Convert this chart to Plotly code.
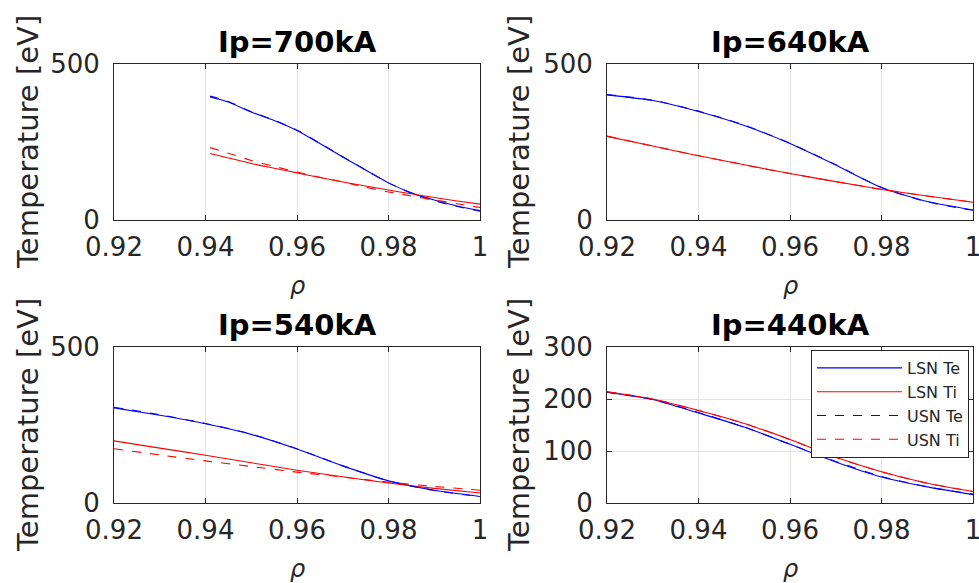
import plotly.graph_objects as go

# ---------------- data ----------------
titles = ["Ip=700kA", "Ip=640kA", "Ip=540kA", "Ip=440kA"]
series_names = ["LSN Te", "LSN Ti", "USN Te", "USN Ti"]

rho_700 = [0.941, 0.945, 0.95, 0.955, 0.96, 0.965, 0.97, 0.975, 0.98, 0.985, 0.99, 0.995, 1.0]
te_lsn_700 = [394, 378, 346, 319, 287, 245, 202, 160, 119, 87, 64, 45, 30]
ti_lsn_700 = [213, 199, 181, 166, 151, 136, 122, 109, 96, 84, 72, 61, 51]
te_usn_700 = [397, 380, 347, 320, 288, 246, 203, 160, 119, 86, 62, 43, 28]
ti_usn_700 = [232, 214, 191, 172, 154, 137, 122, 105, 90, 77, 64, 52, 40]

rho = [0.92, 0.93, 0.94, 0.95, 0.96, 0.97, 0.98, 0.99, 1.0]

te_lsn_640 = [401, 383, 348, 303, 245, 176, 104, 59, 32]
ti_lsn_640 = [268, 237, 206, 177, 149, 123, 98, 77, 57]
te_usn_640 = [402, 384, 349, 304, 246, 177, 104, 58, 31]
ti_usn_640 = [269, 237, 206, 177, 149, 123, 98, 77, 57]

te_lsn_540 = [305, 281, 254, 220, 173, 119, 71, 41, 21]
ti_lsn_540 = [199, 176, 153, 129, 105, 84, 64, 47, 32]
te_usn_540 = [307, 283, 255, 221, 174, 119, 71, 40, 20]
ti_usn_540 = [174, 154, 135, 117, 99, 83, 67, 53, 41]

te_lsn_440 = [213, 199, 173, 146, 113, 79, 50, 31, 16]
ti_lsn_440 = [214, 200, 178, 153, 122, 88, 60, 38, 22]
te_usn_440 = [213, 199, 174, 146, 113, 80, 51, 31, 17]
ti_usn_440 = [214, 200, 178, 153, 122, 88, 60, 38, 22]

x_ticks = [0.92, 0.94, 0.96, 0.98, 1.0]
x_ticklabels = ["0.92", "0.94", "0.96", "0.98", "1"]
y_ticks_500 = [0, 500]
y_ticks_300 = [0, 100, 200, 300]

panels = [
    (rho_700, [te_lsn_700, ti_lsn_700, te_usn_700, ti_usn_700], 500, y_ticks_500),
    (rho, [te_lsn_640, ti_lsn_640, te_usn_640, ti_usn_640], 500, y_ticks_500),
    (rho, [te_lsn_540, ti_lsn_540, te_usn_540, ti_usn_540], 500, y_ticks_500),
    (rho, [te_lsn_440, ti_lsn_440, te_usn_440, ti_usn_440], 300, y_ticks_300),
]

# ---------------- layout geometry ----------------
W, H = 979, 583
xdomains = [(114 / W, 480 / W), (607 / W, 973 / W)]
ydomains = [(1 - 220 / H, 1 - 64 / H), (1 - 503 / H, 1 - 347 / H)]

colors = ["#0000ff", "#ff0000", "#0000ff", "#ff0000"]
dashes = ["solid", "solid", "dash", "dash"]

AXC = "#262626"
FONT = "DejaVu Sans"

fig = go.Figure()
layout = dict(
    template="none",
    width=W, height=H,
    margin=dict(l=0, r=0, t=0, b=0, autoexpand=False),
    paper_bgcolor="white", plot_bgcolor="white",
    showlegend=True,
    font=dict(family=FONT, color=AXC),
    annotations=[],
)

for i, (xs, ys_list, ymax, yt) in enumerate(panels):
    r, c = divmod(i, 2)
    n = i + 1
    xa = "x" if n == 1 else f"x{n}"
    ya = "y" if n == 1 else f"y{n}"
    for j, ys in enumerate(ys_list):
        fig.add_trace(go.Scatter(
            x=xs, y=ys, mode="lines", name=series_names[j],
            line=dict(color=colors[j], width=1.1, dash=dashes[j], shape="spline", smoothing=0.6),
            xaxis=xa, yaxis=ya, showlegend=(n == 4),
        ))
    axcommon = dict(showline=True, linecolor=AXC, linewidth=1, mirror="allticks",
                    ticks="inside", ticklen=5, tickcolor=AXC, showgrid=True,
                    gridcolor="#e3e3e3", gridwidth=1, zeroline=False, automargin=False,
                    ticklabeloverflow="allow",
                    tickfont=dict(family=FONT, size=26, color=AXC))
    layout["xaxis" if n == 1 else f"xaxis{n}"] = dict(
        domain=xdomains[c], range=[0.92, 1.0], tickvals=x_ticks, ticktext=x_ticklabels,
        anchor=ya, ticklabelstandoff=4, **axcommon)
    layout["yaxis" if n == 1 else f"yaxis{n}"] = dict(
        domain=ydomains[r], range=[0, ymax], tickvals=yt, anchor=xa,
        ticklabelstandoff=8, **axcommon)

    xc = (xdomains[c][0] + xdomains[c][1]) / 2
    ytop = ydomains[r][1]
    ybot = ydomains[r][0]
    # panel title
    layout["annotations"].append(dict(
        text=f"<b>{titles[i]}</b>", xref="paper", yref="paper", x=xc, y=ytop + 22 / H,
        xanchor="center", yanchor="middle", showarrow=False,
        font=dict(family=FONT, size=29, color="black")))
    # x label
    layout["annotations"].append(dict(
        text="<i>ρ</i>", xref="paper", yref="paper", x=xc, y=ybot - 66 / H,
        xanchor="center", yanchor="middle", showarrow=False,
        font=dict(family=FONT, size=24, color=AXC)))
    # y label
    ylx = (28 if c == 0 else 519) / W
    layout["annotations"].append(dict(
        text="Temperature [eV]", xref="paper", yref="paper", x=ylx,
        y=(ydomains[r][0] + ydomains[r][1]) / 2, textangle=-90,
        xanchor="center", yanchor="middle", showarrow=False,
        font=dict(family=FONT, size=29, color=AXC)))

layout["legend"] = dict(
    x=969 / W, y=1 - 350 / H, xanchor="right", yanchor="top",
    bgcolor="white", bordercolor=AXC, borderwidth=1,
    font=dict(family=FONT, size=16, color=AXC), tracegroupgap=0,
    itemwidth=85,
)

fig.update_layout(**layout)
fig.write_html("out.html", config={"displayModeBar": False},
               post_script="document.body.style.margin='0';document.body.style.overflow='hidden';")
